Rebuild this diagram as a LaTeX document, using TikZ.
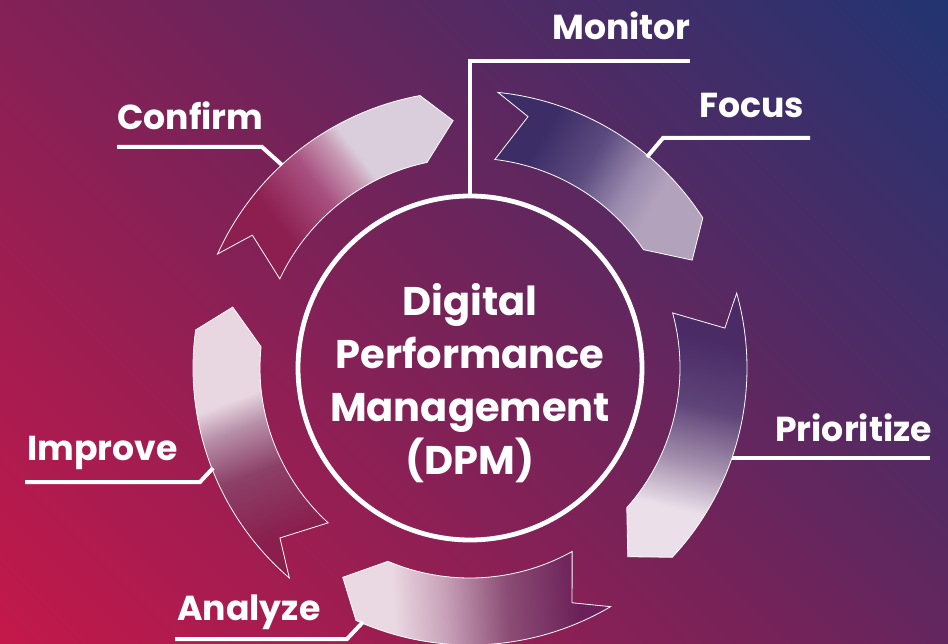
\documentclass[tikz,border=0pt]{standalone}
\usepackage{fontspec}
\setmainfont{Poppins}
\definecolor{bgA}{HTML}{C4184A}
\definecolor{bgM}{HTML}{742359}
\definecolor{bgB}{HTML}{223472}
\definecolor{cfD}{HTML}{8C1E50}\definecolor{cfM}{HTML}{A85080}\definecolor{cfS}{HTML}{C89AB4}\definecolor{cfL}{HTML}{DACEDC}
\definecolor{fcD}{HTML}{3D2D67}\definecolor{fcM}{HTML}{5A4A7E}\definecolor{fcS}{HTML}{9A8AAE}\definecolor{fcL}{HTML}{B2A2BC}
\definecolor{prD}{HTML}{4A2B66}\definecolor{prM}{HTML}{5E4478}\definecolor{prS}{HTML}{A590AE}\definecolor{prL}{HTML}{EBE0EA}
\definecolor{anD}{HTML}{6C1F58}\definecolor{anM}{HTML}{8A4C74}\definecolor{anS}{HTML}{C8A0B8}\definecolor{anL}{HTML}{EAD8E2}
\definecolor{imD}{HTML}{8A1F4E}\definecolor{imM}{HTML}{8C4068}\definecolor{imS}{HTML}{B890AA}\definecolor{imL}{HTML}{E8D6E0}
\pgfdeclarehorizontalshading{bgshade}{100bp}{color(0bp)=(bgA); color(14.6bp)=(bgA); color(50bp)=(bgM); color(85.4bp)=(bgB); color(100bp)=(bgB)}
\pgfdeclarehorizontalshading{shCf}{100bp}{color(0bp)=(cfD); color(34bp)=(cfD); color(47bp)=(cfM); color(55bp)=(cfS); color(59bp)=(cfL); color(100bp)=(cfL)}
\pgfdeclarehorizontalshading{shFc}{100bp}{color(0bp)=(fcD); color(32bp)=(fcD); color(46bp)=(fcM); color(58bp)=(fcS); color(66bp)=(fcL); color(100bp)=(fcL)}
\pgfdeclarehorizontalshading{shPr}{100bp}{color(0bp)=(prD); color(32bp)=(prD); color(46bp)=(prM); color(58bp)=(prS); color(68bp)=(prL); color(100bp)=(prL)}
\pgfdeclarehorizontalshading{shAn}{100bp}{color(0bp)=(anD); color(30bp)=(anD); color(44bp)=(anM); color(56bp)=(anS); color(66bp)=(anL); color(100bp)=(anL)}
\pgfdeclarehorizontalshading{shIm}{100bp}{color(0bp)=(imD); color(30bp)=(imD); color(44bp)=(imM); color(54bp)=(imS); color(60bp)=(imL); color(100bp)=(imL)}
\tikzset{
  ringarrow/.style={draw=white, line width=0.6pt},
  leader/.style={draw=white, line width=3pt},
  lbl/.style={text=white, font=\fontsize{26}{30}\selectfont\bfseries, inner sep=0pt, anchor=base west},
  hub/.style={circle, draw=white, line width=3.6pt, minimum size=258pt, inner sep=0pt},
  hubtext/.style={text=white, align=center, font=\fontsize{30}{39.75}\selectfont\bfseries}
}
\begin{document}
\begin{tikzpicture}[x=0.75pt,y=0.75pt]
\useasboundingbox (0,0) rectangle (948,643);
\shade[shading=bgshade, shading angle=45] (0,0) rectangle (948,643);
\begin{scope}[shift={(470,275)}]
% Confirm
\shadedraw[ringarrow, shading=shCf, shading angle=38] (155.7:277) arc[start angle=155.7, end angle=100.4, radius=277] -- (93.9:248) -- (101.8:210) arc[start angle=101.8, end angle=154.9, radius=210] -- (148.6:255) -- cycle;
% Focus
\shadedraw[ringarrow, shading=shFc, shading angle=-31.5] (84.2:277) arc[start angle=84.2, end angle=32.8, radius=277] -- (25.9:247) -- (34.3:210) arc[start angle=34.3, end angle=83.2, radius=210] -- (77:258) -- cycle;
% Prioritize
\shadedraw[ringarrow, shading=shPr, shading angle=-103.5] (15.7:277) arc[start angle=15.7, end angle=-43.1, radius=277] -- (-50.1:246) -- (-41.7:210) arc[start angle=-41.7, end angle=15.2, radius=210] -- (8.9:258) -- cycle;
% Analyze
\shadedraw[ringarrow, shading=shAn, shading angle=-176.75] (-59.5:277) arc[start angle=-59.5, end angle=-114.3, radius=277] -- (-121.3:245) -- (-113:210) arc[start angle=-113, end angle=-60.9, radius=210] -- (-66.5:256) -- cycle;
% Improve
\shadedraw[ringarrow, shading=shIm, shading angle=110.75] (-130.7:277) arc[start angle=-130.7, end angle=-187.9, radius=277] -- (-194.4:245) -- (-185.8:210) arc[start angle=-185.8, end angle=-132.5, radius=210] -- (-138.2:255) -- cycle;
\end{scope}
% hub
\node[hub] (hub) at (470,275) {};
\node[hubtext] (hubtxt) at (470,260) {Digital\\Performance\\Management\\(DPM)};
% leader line points
\coordinate (monA) at (690,582); \coordinate (monB) at (470,582);
\coordinate (focA) at (810,505); \coordinate (focB) at (663,505); \coordinate (focC) at (647,486);
\coordinate (cnfA) at (117,496); \coordinate (cnfB) at (262,496); \coordinate (cnfC) at (282,478);
\coordinate (priA) at (930,185); \coordinate (priB) at (732,185);
\coordinate (impA) at (25,161); \coordinate (impB) at (200,161); \coordinate (impC) at (213,175);
\coordinate (anaA) at (175,4); \coordinate (anaB) at (347,4); \coordinate (anaC) at (363,21);
\draw[leader] (monA) -- (monB) -- (hub.north);
\draw[leader] (focA) -- (focB) -- (focC);
\draw[leader] (cnfA) -- (cnfB) -- (cnfC);
\draw[leader] (priA) -- (priB);
\draw[leader] (impA) -- (impB) -- (impC);
\draw[leader] (anaA) -- (anaB) -- (anaC);
% labels
\node[lbl] (monitor) at (552,603) {Monitor};
\node[lbl] (focus) at (699,525) {Focus};
\node[lbl] (confirm) at (117,513) {Confirm};
\node[lbl] (prioritize) at (775,202) {Prioritize};
\node[lbl] (improve) at (27,183) {Improve};
\node[lbl] (analyze) at (177,23) {Analyze};
\end{tikzpicture}
\end{document}
